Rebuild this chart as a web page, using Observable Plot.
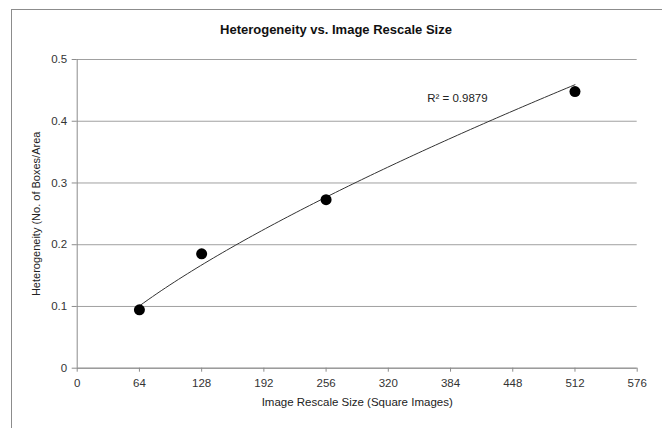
<!DOCTYPE html>
<html>
<head>
<meta charset="utf-8">
<script src="https://cdn.jsdelivr.net/npm/d3@7"></script>
<script src="https://cdn.jsdelivr.net/npm/@observablehq/plot@0.6"></script>
<style>
  html, body { margin: 0; padding: 0; background: #fff; }
  #wrap { position: relative; width: 662px; height: 428px; overflow: hidden; font-family: "Liberation Sans", Arial, sans-serif; }
  #frame { position: absolute; left: 10.5px; top: 8.5px; width: 660px; height: 440px; border: 1px solid #8c8c8c; box-sizing: border-box; }
  #title { position: absolute; left: 0; width: 672px; top: 22px; text-align: center; font-weight: bold; font-size: 13px; color: #111; }
  #chart { position: absolute; left: 0; top: 0; }
</style>
</head>
<body>
<div id="wrap">
  <div id="frame"></div>
  <div id="title">Heterogeneity vs. Image Rescale Size</div>
  <div id="chart"></div>
</div>
<script>
const sizes = [64, 128, 256, 512];
const heterogeneity = [0.0946, 0.1853, 0.273, 0.448];
const xTicks = [0, 64, 128, 192, 256, 320, 384, 448, 512, 576];
const yTicks = [0, 0.1, 0.2, 0.3, 0.4, 0.5];
const rSquaredLabel = "R² = 0.9879";

const points = sizes.map((s, i) => ({x: s, y: heterogeneity[i]}));

// Power trendline y = a * x^b fitted in log space from the data
const lx = sizes.map(Math.log), ly = heterogeneity.map(Math.log);
const mx = d3.mean(lx), my = d3.mean(ly);
const b = d3.sum(lx.map((v, i) => (v - mx) * (ly[i] - my))) / d3.sum(lx.map(v => (v - mx) ** 2));
const a = Math.exp(my - b * mx);
const xMin = d3.min(sizes), xMax = d3.max(sizes);
const trend = d3.range(0, 101).map(k => {
  const x = xMin + (xMax - xMin) * k / 100;
  return {x, y: a * Math.pow(x, b)};
});

const plot = Plot.plot({
  width: 662,
  height: 428,
  marginLeft: 76.7,
  marginRight: 25.3,
  marginTop: 59,
  marginBottom: 60.3,
  style: {fontFamily: "Liberation Sans, Arial, sans-serif", fontSize: "11px", color: "#333", background: "transparent"},
  x: {domain: [0, 576], ticks: xTicks, label: null},
  y: {domain: [0, 0.5], ticks: yTicks, label: null},
  marks: [
    Plot.gridY(yTicks, {stroke: "#a0a0a0", strokeOpacity: 1}),
    Plot.ruleX([0], {stroke: "#8c8c8c"}),
    Plot.ruleY([0], {stroke: "#8c8c8c"}),
    Plot.axisX({ticks: xTicks, tickSize: 4, tickPadding: 7, stroke: "#8c8c8c", fill: "#333", label: null, tickFormat: d3.format("d"), fontSize: 11.5}),
    Plot.axisY({ticks: yTicks, tickSize: 5, tickPadding: 5, stroke: "#8c8c8c", fill: "#333", label: null, tickFormat: d => d === 0 ? "0" : d3.format(".1f")(d), fontSize: 11.5}),
    Plot.line(trend, {x: "x", y: "y", stroke: "#333", strokeWidth: 1}),
    Plot.dot(points, {x: "x", y: "y", r: 5.5, fill: "#000", stroke: "none"}),
    Plot.text([rSquaredLabel], {frameAnchor: "top-left", dx: 350, dy: 34, text: d => d, fill: "#222", fontSize: 11.5, textAnchor: "start"}),
    Plot.text(["Image Rescale Size (Square Images)"], {frameAnchor: "bottom", dx: 0, dy: 38, text: d => d, fill: "#222", fontSize: 11.5}),
    Plot.text(["Heterogeneity (No. of Boxes/Area"], {frameAnchor: "left", dx: -41, dy: 0, rotate: -90, textAnchor: "middle", text: d => d, fill: "#222", fontSize: 11})
  ]
});
document.getElementById("chart").appendChild(plot);
</script>
</body>
</html>
